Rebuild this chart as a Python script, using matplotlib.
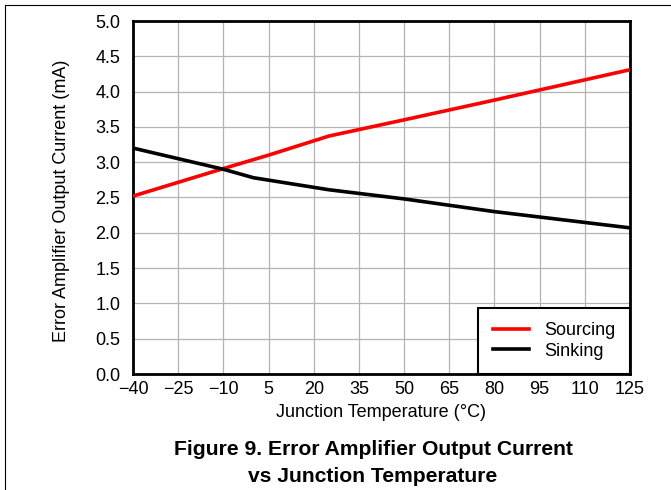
import matplotlib

matplotlib.use("Agg")
import matplotlib.pyplot as plt
from matplotlib.lines import Line2D

plt.rcParams["font.family"] = ["Liberation Sans", "DejaVu Sans"]

# values
src_temp = [-40, -10, 5, 25, 50, 80, 125]
src_curr = [2.52, 2.91, 3.10, 3.37, 3.60, 3.88, 4.31]
snk_temp = [-40, -10, 0, 25, 50, 80, 125]
snk_curr = [3.20, 2.90, 2.78, 2.61, 2.48, 2.30, 2.07]
xticks = [-40, -25, -10, 5, 20, 35, 50, 65, 80, 95, 110, 125]
yticks = [0.0, 0.5, 1.0, 1.5, 2.0, 2.5, 3.0, 3.5, 4.0, 4.5, 5.0]

W, H = 671, 490
fig = plt.figure(figsize=(W / 100, H / 100), dpi=100)
ax = fig.add_axes([133 / W, 1 - 374 / H, (630 - 133) / W, (374 - 21) / H])

ax.plot(src_temp, src_curr, color="#ff0000", lw=2.6, label="Sourcing", zorder=3)
ax.plot(snk_temp, snk_curr, color="black", lw=2.6, label="Sinking", zorder=3)

ax.set_xlim(-40, 125)
ax.set_ylim(0, 5)
ax.set_xticks(xticks)
ax.set_yticks(yticks)
ax.set_yticklabels([f"{v:.1f}" for v in yticks])
ax.tick_params(length=0, labelsize=13)
ax.tick_params(axis="y", pad=9)
ax.tick_params(axis="x", pad=5)
ax.grid(True, color="#b4b4b4", lw=0.9)
ax.set_axisbelow(True)
for s in ax.spines.values():
    s.set_linewidth(2.0)
    s.set_color("black")

ax.set_xlabel("Junction Temperature (°C)", fontsize=13, va="center")
ax.xaxis.set_label_coords(0.5, (374 - 412) / 353)
ax.set_ylabel("Error Amplifier Output Current (mA)", fontsize=13, va="center")
ax.yaxis.set_label_coords((62 - 133) / 497, 0.49)

leg = ax.legend(loc="lower right", borderaxespad=0, fancybox=False,
                framealpha=1, edgecolor="black", fontsize=13,
                handlelength=2.0, handletextpad=0.85, borderpad=0.8,
                labelspacing=0.2)
leg.get_frame().set_linewidth(1.5)

fig.text(373 / W, 1 - 449 / H, "Figure 9. Error Amplifier Output Current",
         ha="center", va="center", fontsize=15.2, fontweight="bold")
fig.text(373 / W, 1 - 476 / H, "vs Junction Temperature",
         ha="center", va="center", fontsize=15.2, fontweight="bold")

# page frame lines (top and left)
fig.add_artist(Line2D([5 / W, 1], [1 - 5 / H, 1 - 5 / H], color="black", lw=0.8))
fig.add_artist(Line2D([5 / W, 5 / W], [0, 1 - 5 / H], color="black", lw=0.8))

fig.savefig("out.png", dpi=100, facecolor="white")
